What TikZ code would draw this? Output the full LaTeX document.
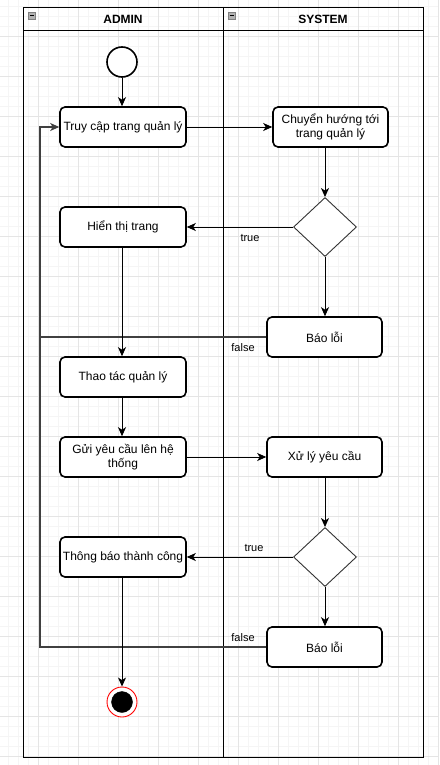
\documentclass[tikz,border=0pt]{standalone}
\usepackage{fontspec}
\setmainfont{Liberation Sans}
\usetikzlibrary{shapes.geometric,arrows.meta}
\tikzset{
  act/.style={draw=black,line width=1.6pt,rounded corners=5pt,fill=white,minimum width=126pt,minimum height=40pt,inner sep=1pt,align=center,font=\fontsize{12}{14}\selectfont},
  actr/.style={act,minimum width=115pt},
  dec/.style={draw=black!80,line width=0.9pt,shape=diamond,fill=white,minimum width=63pt,minimum height=59pt,inner sep=0pt},
  tip/.tip={Stealth[length=9pt,width=8pt,inset=2.5pt]},
  flow/.style={draw=black,line width=0.9pt,-tip},
  backline/.style={draw=black!75,line width=1.1pt},
  lbl/.style={font=\fontsize{11}{13}\selectfont,inner sep=0pt},
  hdr/.style={font=\bfseries\fontsize{12}{14}\selectfont,inner sep=0pt},
  icon/.style={draw=black!50,fill=black!30,line width=0.5pt}
}
\begin{document}
\begin{tikzpicture}[x=1pt,y=-1pt]
\useasboundingbox (0,0) rectangle (439,765);
\fill[white] (0,0) rectangle (439,765);
% grid
\foreach \i in {0,...,44} {\draw[black!4,line width=0.5pt] ({8.3+10*\i},0) -- ({8.3+10*\i},765);}
\foreach \i in {0,...,76} {\draw[black!4,line width=0.5pt] (0,{6.7+10*\i}) -- (439,{6.7+10*\i});}
\foreach \i in {0,...,10} {\draw[black!10,line width=0.6pt] ({38.3+40*\i},0) -- ({38.3+40*\i},765);}
\foreach \i in {-1,...,18} {\draw[black!10,line width=0.6pt] (0,{36.7+40*\i}) -- (439,{36.7+40*\i});}
% pool
\draw[black,line width=0.9pt] (23,7) rectangle (423,757);
\draw[black,line width=0.9pt] (23,30) -- (423,30);
\draw[black,line width=0.9pt] (223,7) -- (223,757);
\node[hdr] (hA) at (123,19) {ADMIN};
\node[hdr] (hS) at (323,19) {SYSTEM};
\draw[icon] (28.5,12.5) rectangle (35.5,19);
\draw[black,line width=0.6pt] (30,15.8) -- (34,15.8);
\draw[icon] (228,12.5) rectangle (235,19);
\draw[black,line width=0.6pt] (229.5,15.8) -- (233.5,15.8);
% nodes
\node[circle,draw=black,line width=1.6pt,fill=white,minimum size=30pt,inner sep=0pt] (start) at (122,62) {};
\node[act] (n1) at (123,127) {Truy cập trang quản lý};
\node[actr] (n2) at (330.5,127) {Chuyển hướng tới\\trang quản lý};
\node[dec] (d1) at (325,227) {};
\node[act] (n3) at (123,227) {Hiển thị trang};
\node[actr] (e1) at (324.5,337) {Báo lỗi};
\node[act] (n4) at (123,377) {Thao tác quản lý};
\node[act] (n5) at (123,457) {Gửi yêu cầu lên hệ\\thống};
\node[actr] (n6) at (324.5,457) {Xử lý yêu cầu};
\node[dec] (d2) at (325,557) {};
\node[act] (n7) at (123,557) {Thông báo thành công};
\node[actr] (e2) at (324.5,647) {Báo lỗi};
\node[circle,draw=red,line width=0.9pt,fill=white,minimum size=30pt,inner sep=0pt] (end) at (122,702) {};
\node[circle,draw=black,fill=black,minimum size=21pt,inner sep=0pt] (endin) at (122,702) {};
\coordinate (c1) at (40,337);
\coordinate (c2) at (40,647);
\coordinate (c0) at (40,127);
% flows
\draw[flow] (start) -- (n1.north -| start);
\draw[flow] (n1) -- (n2);
\draw[flow] (n2.south -| d1.north) -- (d1.north);
\draw[flow] (d1.west) -- (n3.east);
\node[lbl] (t1) at (250,238) {true};
\draw[flow] (d1.south) -- (e1.north -| d1.south);
\draw[backline] (e2.west) -- (c2) -- (c1);
\draw[backline,-tip] (e1.west) -- (c1) -- (c0) -- (n1.west);
\node[lbl] (f1) at (243,348) {false};
\draw[flow] (n3.south -| start) -- (n4.north -| start);
\draw[flow] (n4.south -| start) -- (n5.north -| start);
\draw[flow] (n5) -- (n6);
\draw[flow] (n6.south -| d2.north) -- (d2.north);
\draw[flow] (d2.west) -- (n7.east);
\node[lbl] (t2) at (254,548) {true};
\draw[flow] (d2.south) -- (e2.north -| d2.south);
\node[lbl] (f2) at (243,638) {false};
\draw[flow] (n7.south -| start) -- (end.north);
\end{tikzpicture}
\end{document}
